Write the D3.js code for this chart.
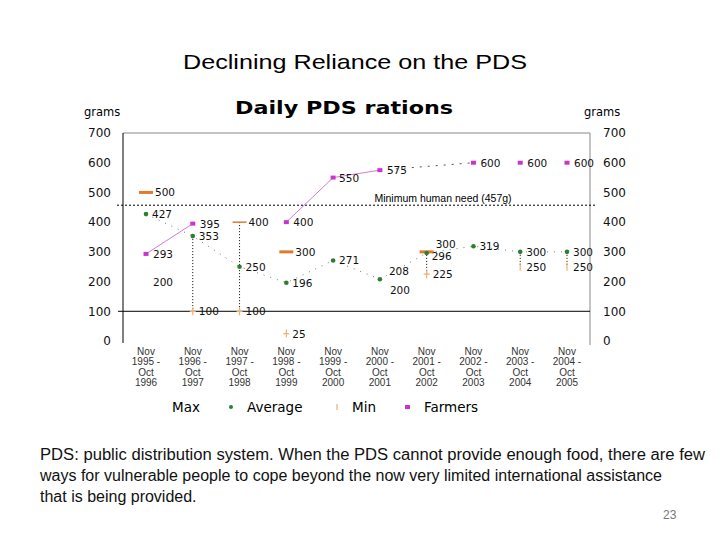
<!DOCTYPE html>
<html>
<head>
<meta charset="utf-8">
<script src="https://cdn.jsdelivr.net/npm/d3@7"></script>
<style>
  body { margin: 0; background: #fff; }
  svg { font-family: "Liberation Sans", Arial, sans-serif; }
  .dv { font-family: "DejaVu Sans", sans-serif; }
</style>
</head>
<body>
<svg id="chart" width="720" height="540"></svg>
<script>
// periods on the x axis
const periods = [
  ['Nov', '1995 -', 'Oct', '1996'], ['Nov', '1996 -', 'Oct', '1997'],
  ['Nov', '1997 -', 'Oct', '1998'], ['Nov', '1998 -', 'Oct', '1999'],
  ['Nov', '1999 -', 'Oct', '2000'], ['Nov', '2000 -', 'Oct', '2001'],
  ['Nov', '2001 -', 'Oct', '2002'], ['Nov', '2002 -', 'Oct', '2003'],
  ['Nov', '2003 -', 'Oct', '2004'], ['Nov', '2004 -', 'Oct', '2005']
];
const maxVals = [500, null, 400, 300, null, null, 300, null, null, null];
const avgVals = [427, 353, 250, 196, 271, 208, 296, 319, 300, 300];
const minVals = [200, 100, 100, 25, null, 200, 225, null, 250, 250];
const farmerVals = [293, 395, null, 400, 550, 575, null, 600, 600, 600];
const minNeed = 457;
const yTicks = [0, 100, 200, 300, 400, 500, 600, 700];
const dropIdx = [1, 2, 6, 8, 9]; // periods with a max-min drop line

const svg = d3.select('#chart');
const keys = periods.map((p, i) => i);

const x = d3.scalePoint().domain(keys).range([146, 567]);
const y = d3.scaleLinear().domain([0, 700]).range([341, 133]);
const plotL = 123, plotR = 590;

// titles
svg.append('text').attr('x', 355).attr('y', 69).attr('text-anchor', 'middle')
  .attr('textLength', 344).attr('lengthAdjust', 'spacingAndGlyphs')
  .style('font-size', '21px').text('Declining Reliance on the PDS');
svg.append('text').attr('class', 'dv').attr('x', 344).attr('y', 114).attr('text-anchor', 'middle')
  .attr('textLength', 218).attr('lengthAdjust', 'spacingAndGlyphs')
  .style('font-size', '18px').style('font-weight', 'bold')
  .text('Daily PDS rations');
svg.append('text').attr('class', 'dv').attr('x', 84).attr('y', 116).style('font-size', '11.5px').text('grams');
svg.append('text').attr('class', 'dv').attr('x', 584).attr('y', 116).style('font-size', '11.5px').text('grams');

// frame
const g = svg.append('g');
g.append('line').attr('x1', plotL).attr('x2', plotR).attr('y1', y(700)).attr('y2', y(700))
  .attr('stroke', '#888');
g.append('line').attr('x1', plotR).attr('x2', plotR).attr('y1', y(700)).attr('y2', y(0) + 4)
  .attr('stroke', '#888');
g.append('line').attr('x1', plotL).attr('x2', plotL).attr('y1', y(700)).attr('y2', y(0) + 2)
  .attr('stroke', '#000');
g.append('line').attr('x1', plotL - 5).attr('x2', plotR).attr('y1', y(100)).attr('y2', y(100))
  .attr('stroke', '#000');

// y axes
const left = svg.append('g').attr('transform', `translate(111,0)`)
  .call(d3.axisLeft(y).tickValues(yTicks).tickSize(0).tickPadding(0));
const right = svg.append('g').attr('transform', `translate(603,0)`)
  .call(d3.axisRight(y).tickValues(yTicks).tickSize(0).tickPadding(0));
[left, right].forEach(a => {
  a.select('.domain').remove();
  a.selectAll('text').style('font-size', '12px').style('font-family', '"DejaVu Sans", sans-serif')
    .attr('fill', '#111');
});

// x labels
const xl = svg.append('g').selectAll('text').data(periods).join('text')
  .attr('x', (d, i) => x(i)).attr('y', 355).attr('text-anchor', 'middle')
  .style('font-size', '10px').attr('fill', '#333');
xl.selectAll('tspan').data(d => d).join('tspan')
  .attr('x', function () { return d3.select(this.parentNode).attr('x'); })
  .attr('dy', (d, i) => i === 0 ? 0 : 10.3).text(d => d);

// minimum human need
g.append('line').attr('x1', plotL - 6).attr('x2', plotR + 6)
  .attr('y1', y(minNeed)).attr('y2', y(minNeed))
  .attr('stroke', '#000').attr('stroke-dasharray', '2,2');
svg.append('text').attr('x', 443).attr('y', y(minNeed) - 3).attr('text-anchor', 'middle')
  .style('font-size', '10.5px').text(`Minimum human need (${minNeed}g)`);

// drop lines max/avg to min
g.selectAll('.drop').data(dropIdx).join('line').attr('class', 'drop')
  .attr('x1', i => x(i)).attr('x2', i => x(i))
  .attr('y1', i => y(maxVals[i] != null ? maxVals[i] : avgVals[i]))
  .attr('y2', i => y(minVals[i]))
  .attr('stroke', '#000').attr('stroke-dasharray', '1,2');

// average connector
g.append('path').datum(avgVals)
  .attr('d', d3.line().x((d, i) => x(i)).y(d => y(d)))
  .attr('fill', 'none').attr('stroke', '#777').attr('stroke-dasharray', '1,6');

// farmers line
const farmLine = d3.line().defined(d => d != null).x((d, i) => x(i)).y(d => y(d));
g.append('path').datum(farmerVals.map((v, i) => i <= 5 ? v : null))
  .attr('d', farmLine).attr('fill', 'none').attr('stroke', '#cc55cc').attr('stroke-width', 0.8);
g.append('path').datum([[5, farmerVals[5]], [7, farmerVals[7]]])
  .attr('d', d3.line().x(d => x(d[0])).y(d => y(d[1])))
  .attr('fill', 'none').attr('stroke', '#555').attr('stroke-dasharray', '2,6');

const pts = arr => arr.map((v, i) => ({ i, v })).filter(d => d.v != null);

// max markers
g.selectAll('.mx').data(pts(maxVals)).join('line').attr('class', 'mx')
  .attr('x1', d => x(d.i) - 7).attr('x2', d => x(d.i) + 7)
  .attr('y1', d => y(d.v)).attr('y2', d => y(d.v))
  .attr('stroke', '#e07a30').attr('stroke-width', d => d.i === 2 ? 1.5 : 3);

// min markers
g.selectAll('.mn').data(pts(minVals).filter(d => d.i !== 0 && d.i !== 5)).join('path').attr('class', 'mn')
  .attr('d', d => d.i >= 8
    ? `M${x(d.i)},${y(d.v) - 4}V${y(d.v) + 4}`
    : `M${x(d.i)},${y(d.v) - 4}V${y(d.v) + 4}M${x(d.i) - 3},${y(d.v)}H${x(d.i) + 3}`)
  .attr('stroke', '#f0b070').attr('stroke-width', 1.2);

// farmer markers
g.selectAll('.fm').data(pts(farmerVals)).join('rect').attr('class', 'fm')
  .attr('x', d => x(d.i) - 2.5).attr('y', d => y(d.v) - 2).attr('width', 5).attr('height', 4)
  .attr('fill', '#cc33cc');

// average markers
g.selectAll('.av').data(pts(avgVals)).join('circle').attr('class', 'av')
  .attr('cx', d => x(d.i)).attr('cy', d => y(d.v)).attr('r', 2.3).attr('fill', '#2e7d32');

// value labels
const lab = (arr, dx, dy, skip) => pts(arr).forEach(d => {
  const o = (skip && skip[d.i]) || [dx, dy];
  svg.append('text').attr('class', 'dv').attr('x', x(d.i) + o[0]).attr('y', y(d.v) + o[1])
    .style('font-size', '10.5px').attr('fill', '#111').text(d.v);
});
lab(maxVals, 9, 4, { 6: [9, -4] });
lab(avgVals, 6, 4, { 5: [9, -4], 6: [5, 7] });
lab(minVals, 6, 4, { 0: [7, 4], 5: [10, 12] });
lab(farmerVals, 7, 4, { 4: [6, 4] });

// legend
const lg = svg.append('g').attr('class', 'dv').style('font-size', '13.5px');
lg.append('text').attr('x', 172).attr('y', 412).text('Max');
lg.append('circle').attr('cx', 231).attr('cy', 407).attr('r', 2).attr('fill', '#2e7d32');
lg.append('text').attr('x', 247).attr('y', 412).text('Average');
lg.append('line').attr('x1', 337).attr('x2', 337).attr('y1', 404).attr('y2', 410)
  .attr('stroke', '#f0b070').attr('stroke-width', 1.2);
lg.append('text').attr('x', 352).attr('y', 412).text('Min');
lg.append('rect').attr('x', 405).attr('y', 405).attr('width', 5).attr('height', 4).attr('fill', '#cc33cc');
lg.append('text').attr('x', 424).attr('y', 412).text('Farmers');

// footnote
const note = [
  'PDS: public distribution system. When the PDS cannot provide enough food, there are few',
  'ways for vulnerable people to cope beyond the now very limited international assistance',
  'that is being provided.'
];
const lens = [665, 622, null];
note.forEach((t, i) => {
  const tx = svg.append('text').attr('x', 40).attr('y', 460 + i * 21)
    .style('font-size', '16px').attr('fill', '#111').text(t);
  if (lens[i]) tx.attr('textLength', lens[i]).attr('lengthAdjust', 'spacingAndGlyphs');
});
svg.append('text').attr('x', 663).attr('y', 519).style('font-size', '12px')
  .attr('fill', '#777').text('23');
</script>
</body>
</html>
